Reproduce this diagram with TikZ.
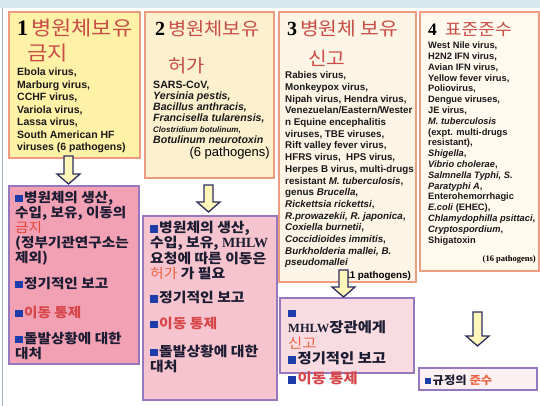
\documentclass[tikz,border=0pt]{standalone}
\usepackage{fontspec}
\setmainfont{Liberation Sans}
\newfontfamily\kr[FakeStretch=1.1]{Noto Sans CJK KR}
\newfontfamily\tmr{Liberation Serif}
\usetikzlibrary{calc}
\definecolor{titred}{RGB}{200,78,72}
\definecolor{hotred}{RGB}{232,70,55}
\definecolor{orred}{RGB}{236,100,65}
\definecolor{redtxt}{RGB}{214,70,72}
\definecolor{sqblue}{RGB}{30,60,170}
\definecolor{darktxt}{RGB}{28,28,50}
\definecolor{salmon}{RGB}{238,156,128}
\definecolor{purp}{RGB}{150,120,190}
\definecolor{yla}{RGB}{255,241,166}
\definecolor{ylb}{RGB}{252,240,207}
\definecolor{ylc}{RGB}{252,244,228}
\definecolor{yld}{RGB}{255,249,238}
\definecolor{pka}{RGB}{242,160,180}
\definecolor{pkb}{RGB}{246,196,206}
\definecolor{pkc}{RGB}{249,220,226}
\definecolor{pkd}{RGB}{253,240,242}
\definecolor{topband}{RGB}{214,233,238}
\definecolor{frameline}{RGB}{160,182,198}
\definecolor{arrowline}{RGB}{46,46,94}
\definecolor{arrowfill}{RGB}{255,246,185}
\newcommand{\sqm}{\textcolor{sqblue}{\rule{0.55em}{0.55em}}\hspace{0.12em}}
\newcommand{\blockarrow}[2]{%
  \path[blockarrow] let \p1=#1, \p2=#2 in
  (\x1-4.5pt,\y1) -- (\x1-4.5pt,\y2+10pt) -- (\x1-11.5pt,\y2+10pt) -- (\x1,\y2)
  -- (\x1+11.5pt,\y2+10pt) -- (\x1+4.5pt,\y2+10pt) -- (\x1+4.5pt,\y1) -- cycle;}
\begin{document}
\begin{tikzpicture}[x=1pt,y=-1pt,
  ybox/.style={draw=salmon, line width=2.2pt, inner sep=0pt, outer sep=0pt, anchor=north west},
  pbox/.style={draw=purp, line width=1.8pt, inner sep=0pt, outer sep=0pt, anchor=north west},
  ttl/.style={inner sep=0pt, anchor=base west},
  lst/.style={inner sep=0pt, anchor=north west, align=left, text=black!90},
  ptxt/.style={inner sep=0pt, anchor=north west, align=left, text=darktxt},
  blockarrow/.style={draw=arrowline, fill=arrowfill, line width=1.3pt, line join=miter}]
\useasboundingbox (0,0) rectangle (540,406);
\fill[white] (0,0) rectangle (540,406);
\fill[topband] (0,0) rectangle (540,8);
\draw[frameline, line width=0.8pt] (2,8) -- (2,406);

% upper boxes
\node[ybox, fill=yla, minimum width=131pt, minimum height=146pt] (b1) at (9,12) {};
\node[ybox, fill=ylb, minimum width=129pt, minimum height=166pt] (b2) at (145,12) {};
\node[ybox, fill=ylc, minimum width=137pt, minimum height=270pt] (b3) at (279,12) {};
\node[ybox, fill=yld, minimum width=119pt, minimum height=259pt] (b4) at (420,12) {};

% lower boxes
\node[pbox, fill=pka, minimum width=130pt, minimum height=178pt] (p1) at (9,186) {};
\node[pbox, fill=pkb, minimum width=134pt, minimum height=184pt] (p2) at (143,216) {};
\node[pbox, fill=pkc, minimum width=134pt, minimum height=75pt] (p3) at (280,298) {};
\node[pbox, fill=pkd, minimum width=118pt, minimum height=22pt] (p4) at (419,368) {};

% titles
\node[ttl] (t1) at (17,36) {{\tmr\bfseries\fontsize{22}{22}\selectfont 1}\hspace{3pt}{\kr\fontsize{20}{20}\selectfont\color{titred}병원체보유}};
\node[ttl] (t1b) at (27,61) {\kr\fontsize{20}{20}\selectfont\color{titred}금지};
\node[ttl] (t2) at (155,36) {{\tmr\bfseries\fontsize{20}{20}\selectfont 2}\hspace{3pt}{\kr\fontsize{18}{18}\selectfont\color{titred}병원체보유}};
\node[ttl] (t2b) at (168,73) {\kr\fontsize{18}{18}\selectfont\color{titred}허가};
\node[ttl] (t3) at (287,36) {{\tmr\bfseries\fontsize{20}{20}\selectfont 3}\hspace{3pt}{\kr\fontsize{18.5}{18.5}\selectfont\color{titred}병원체 보유}};
\node[ttl] (t3b) at (308,66) {\kr\fontsize{18.5}{18.5}\selectfont\color{titred}신고};
\node[ttl] (t4) at (428,36) {{\tmr\bfseries\fontsize{17.5}{17.5}\selectfont 4}\hspace{8pt}{\kr\fontsize{16.5}{16.5}\selectfont\color{titred}표준준수}};

% lists
\node[lst, font=\bfseries\fontsize{10.5}{12.5}\selectfont] (l1) at (17,67.5) {\rule{0pt}{8pt}Ebola virus,\\
Marburg virus,\\
CCHF virus,\\
Variola virus,\\
Lassa virus,\\
South American HF\\
viruses (6 pathogens)};

\node[lst, font=\bfseries\fontsize{10.6}{11}\selectfont] (l2) at (153,80) {\rule{0pt}{8pt}SARS-CoV,\\
\textit{Yersinia pestis,}\\
\textit{Bacillus anthracis,}\\
\textit{Francisella tularensis,}\\
{\fontsize{8}{11}\selectfont\textit{Clostridium botulinum,}}\\
\textit{Botulinum neurotoxin}};
\node[ttl, anchor=base east, font=\fontsize{13}{13}\selectfont] (l2b) at (270,157) {(6 pathogens)};

\node[lst, font=\bfseries\fontsize{9.8}{11.7}\selectfont] (l3) at (285,70.5) {\rule{0pt}{8pt}Rabies virus,\\
Monkeypox virus,\\
Nipah virus, Hendra virus,\\
Venezuelan/Eastern/Wester\\
n Equine encephalitis\\
viruses, TBE viruses,\\
Rift valley fever virus,\\
HFRS virus,\ \ HPS virus,\\
Herpes B virus, multi-drugs\\
resistant \textit{M. tuberculosis},\\
genus \textit{Brucella},\\
\textit{Rickettsia rickettsi},\\
\textit{R.prowazekii, R. japonica},\\
\textit{Coxiella burnetii},\\
\textit{Coccidioides immitis},\\
\textit{Burkholderia mallei, B.}\\
\textit{pseudomallei}};
\node[ttl, anchor=base east, font=\bfseries\fontsize{9.8}{9.8}\selectfont] (l3b) at (411,278) {(11 pathogens)};

\node[lst, font=\bfseries\fontsize{9.3}{10.8}\selectfont] (l4) at (428,41) {\rule{0pt}{7.5pt}West Nile virus,\\
H2N2 IFN virus,\\
Avian IFN virus,\\
Yellow fever virus,\\
Poliovirus,\\
Dengue viruses,\\
JE virus,\\
\textit{M. tuberculosis}\\
(expt. multi-drugs\\
resistant),\\
\textit{Shigella},\\
\textit{Vibrio cholerae},\\
\textit{Salmnella Typhi, S.}\\
\textit{Paratyphi A},\\
Enterohemorrhagic\\
\textit{E.coli} (EHEC),\\
\textit{Chlamydophilla psittaci},\\
\textit{Cryptospordium},\\
Shigatoxin};
\node[ttl, anchor=base east, font=\tmr\bfseries\fontsize{8.5}{8.5}\selectfont] (l4b) at (536,261) {(16 pathogens)};

% pink box texts
\node[ptxt, font=\kr\bfseries\fontsize{13.3}{15}\selectfont] (q1) at (15,191) {\rule{0pt}{11pt}\sqm 병원체의 생산,\\
수입, 보유, 이동의\\
{\mdseries\color{hotred}금지}\\
(정부기관연구소는\\
제외)\\[11pt]
\sqm 정기적인 보고\\[14pt]
\sqm\textcolor{redtxt}{이동 통제}\\[11pt]
\sqm 돌발상황에 대한\\
대처};

\node[ptxt, font=\kr\bfseries\fontsize{13.5}{15.3}\selectfont] (q2) at (150,221) {\rule{0pt}{11pt}\sqm 병원체의 생산,\\
수입, 보유, {\tmr\bfseries\fontsize{14}{15.3}\selectfont MHLW}\\
요청에 따른 이동은\\
{\mdseries\color{orred}허가} 가 필요\\[9pt]
\sqm 정기적인 보고\\[10pt]
\sqm\textcolor{redtxt}{이동 통제}\\[13pt]
\sqm 돌발상황에 대한\\
대처};

\node[ptxt, font=\kr\bfseries\fontsize{14}{15.5}\selectfont] (q3) at (288,305) {\rule{0pt}{12pt}\sqm\\
{\tmr\bfseries\fontsize{12.5}{15.5}\selectfont MHLW}장관에게\\
{\mdseries\color{orred}신고}\\
\sqm 정기적인 보고\\[4.5pt]
\sqm\textcolor{redtxt}{이동 통제}};

\node[ttl, text=darktxt, font=\kr\bfseries\fontsize{11.2}{11.2}\selectfont] (q4) at (425,384) {\sqm 규정의 \textcolor{orred}{준수}};

% arrows
\blockarrow{($(b1.south)+(-6,-2)$)}{($(p1.north)+(0,-2)$)}
\blockarrow{($(b2.south)+(-1,7)$)}{($(p2.north)+(0,-4)$)}
\blockarrow{($(b3.south)+(-4,-12)$)}{($(p3.north)+(0,-1)$)}
\blockarrow{($(b4.south)+(-2,41)$)}{($(p4.north)+(0,-22)$)}
\end{tikzpicture}
\end{document}
